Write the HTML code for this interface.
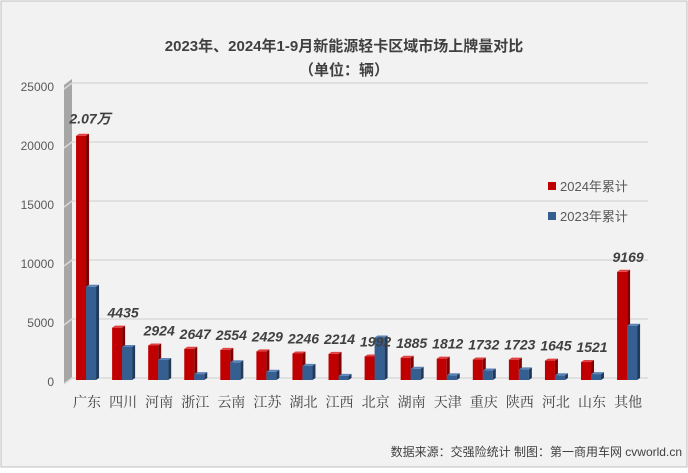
<!DOCTYPE html>
<html><head><meta charset="utf-8"><style>
body{margin:0;background:#fff;}
svg text{font-family:"Liberation Sans","Noto Sans CJK SC",sans-serif;}
svg text.serif{font-family:"Liberation Serif","Noto Serif CJK SC",serif;}
</style></head><body>
<svg width="688" height="468">
<rect x="1" y="1" width="686" height="466" fill="#f2f2f2" stroke="#bfbfbf"/>
<text x="344" y="51" text-anchor="middle" font-size="15" font-weight="bold" fill="#404040">2023年、2024年1-9月新能源轻卡区域市场上牌量对比</text>
<text x="344" y="75" text-anchor="middle" font-size="15" font-weight="bold" fill="#404040">（单位：辆）</text>
<g id="grid"></g><g id="bars"></g><g id="labels"></g>
<rect x="548" y="182" width="8" height="8" fill="#c00000"/>
<text x="560" y="191" font-size="13" fill="#595959">2024年累计</text>
<rect x="548" y="212" width="8" height="8" fill="#355f91"/>
<text x="560" y="221" font-size="13" fill="#595959">2023年累计</text>
<text x="682" y="456" text-anchor="end" font-size="12" fill="#404040">数据来源：交强险统计  制图：第一商用车网 cvworld.cn</text>
</svg>
<script>
const categories=["广东","四川","河南","浙江","云南","江苏","湖北","江西","北京","湖南","天津","重庆","陕西","河北","山东","其他"];
const values2024=[20700,4435,2924,2647,2554,2429,2246,2214,1992,1885,1812,1732,1723,1645,1521,9169];
const values2023=[7900,2800,1700,500,1500,700,1200,350,3600,950,400,800,900,400,500,4600];
const labels2024=["2.07万","4435","2924","2647","2554","2429","2246","2214","1992","1885","1812","1732","1723","1645","1521","9169"];
const yTicks=[0,5000,10000,15000,20000,25000];
const NS="http://www.w3.org/2000/svg";
const x0=69,step=36.07,yBase=380,yTop=85,yMax=25000;
const y=v=>yBase-(yBase-yTop)*v/yMax;
const cx=i=>x0+step*(i+0.5);
function mk(tag,attrs,parent){const e=document.createElementNS(NS,tag);for(const k in attrs)e.setAttribute(k,attrs[k]);parent.appendChild(e);return e;}
const grid=document.getElementById('grid'),bars=document.getElementById('bars'),lab=document.getElementById('labels');
const wall=mk('polygon',{points:`64,${yBase+4} 72,${yBase-2} 72,${yTop-6} 64,${yTop}`,fill:'#a6a6a6'},grid);


yTicks.forEach(t=>{
  const l=mk('polyline',{points:`64,${y(t)+4} 72,${y(t)-2} 648,${y(t)-2}`,fill:'none',stroke:'#d9d9d9','stroke-width':1.5},grid);
  
  
  const tx=mk('text',{x:54,y:y(t)+6,'text-anchor':'end','font-size':12,fill:'#595959'},grid);
  tx.textContent=t;
  
  
});
function bar(xl,v,front,side,top,name){
  const w=10,d=3,yt=y(v);
  const g=mk('g',{},bars);
  
  
  mk('rect',{x:xl,y:yt,width:w,height:yBase-yt,fill:front},g);
  mk('polygon',{points:`${xl+w},${yt} ${xl+w+d},${yt-2} ${xl+w+d},${yBase-2} ${xl+w},${yBase}`,fill:side},g);
  mk('polygon',{points:`${xl},${yt} ${xl+d},${yt-2} ${xl+w+d},${yt-2} ${xl+w},${yt}`,fill:top},g);
}
categories.forEach((c,i)=>{
  const x=cx(i);
  bar(x-11,values2024[i],'#c00000','#7f0000','#e04040','bar-2024-'+c);
  bar(x-1,values2023[i],'#355f91','#1f3a5c','#5a84b8','bar-2023-'+c);
  const t=mk('text',{x:x+(i==0?3:0),y:y(values2024[i])-(i==0?12:10),'text-anchor':'middle','font-size':14,'font-weight':'bold','font-style':'italic',fill:'#404040'},lab);
  t.textContent=labels2024[i];
  
  
  const cl=mk('text',{x:x,y:407,'text-anchor':'middle','font-size':14,fill:'#404040','class':'serif'},lab);
  cl.textContent=c;
  
  
});
</script>
</body></html>
